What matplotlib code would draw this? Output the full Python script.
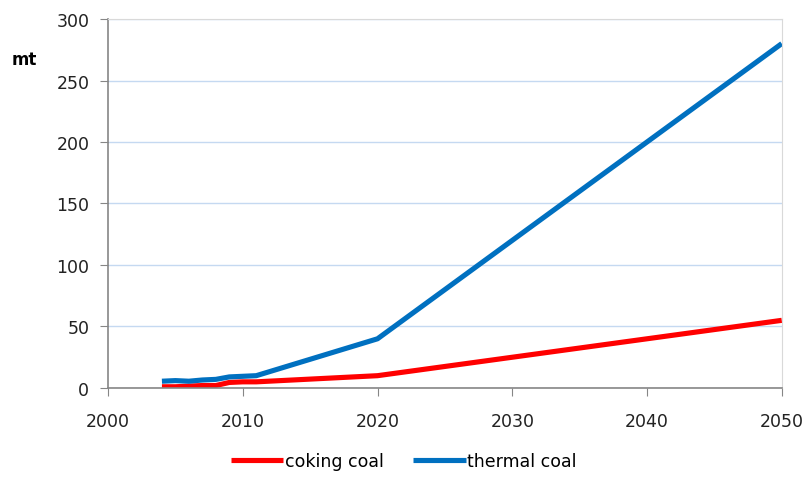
import matplotlib.pyplot as plt

# data
years = [2004, 2005, 2006, 2007, 2008, 2009, 2010, 2011, 2020, 2050]
coking = [1, 1, 1.5, 2, 2, 4.5, 5, 5, 10, 55]
thermal = [5.5, 6, 5.5, 6.5, 7, 9, 9.5, 10, 40, 280]

fig = plt.figure(figsize=(8.08, 4.81), dpi=100)
ax = fig.add_axes([0.1337, 0.1913, 0.8338, 0.7671])

ax.plot(years, coking, color='#ff0000', lw=3.7, solid_capstyle='butt', label='coking coal')
ax.plot(years, thermal, color='#0070c0', lw=3.7, solid_capstyle='butt', label='thermal coal')

ax.set_xlim(2000, 2050)
ax.set_ylim(0, 300)
ax.set_xticks(range(2000, 2051, 10))
ax.set_yticks(range(0, 301, 50))
ax.grid(axis='y', color='#c5d9f1', lw=1)
ax.set_axisbelow(True)

for s in ['top', 'right']:
    ax.spines[s].set_color('#d9d9d9')
for s in ['left', 'bottom']:
    ax.spines[s].set_color('#868686')
    ax.spines[s].set_linewidth(1.2)
ax.tick_params(axis='both', direction='out', length=5.5, color='#868686',
               labelsize=12.5, labelcolor='#222222')
ax.tick_params(axis='x', pad=12)
ax.tick_params(axis='y', pad=8)

fig.text(0.015, 0.875, 'mt', fontsize=12, fontweight='bold', va='center')

fig.legend(loc='center', bbox_to_anchor=(0.5, 0.04), ncol=2, frameon=False,
           fontsize=12.5, handlelength=3.0, handletextpad=0.1, columnspacing=1.7)

fig.savefig('out.png', dpi=100)
